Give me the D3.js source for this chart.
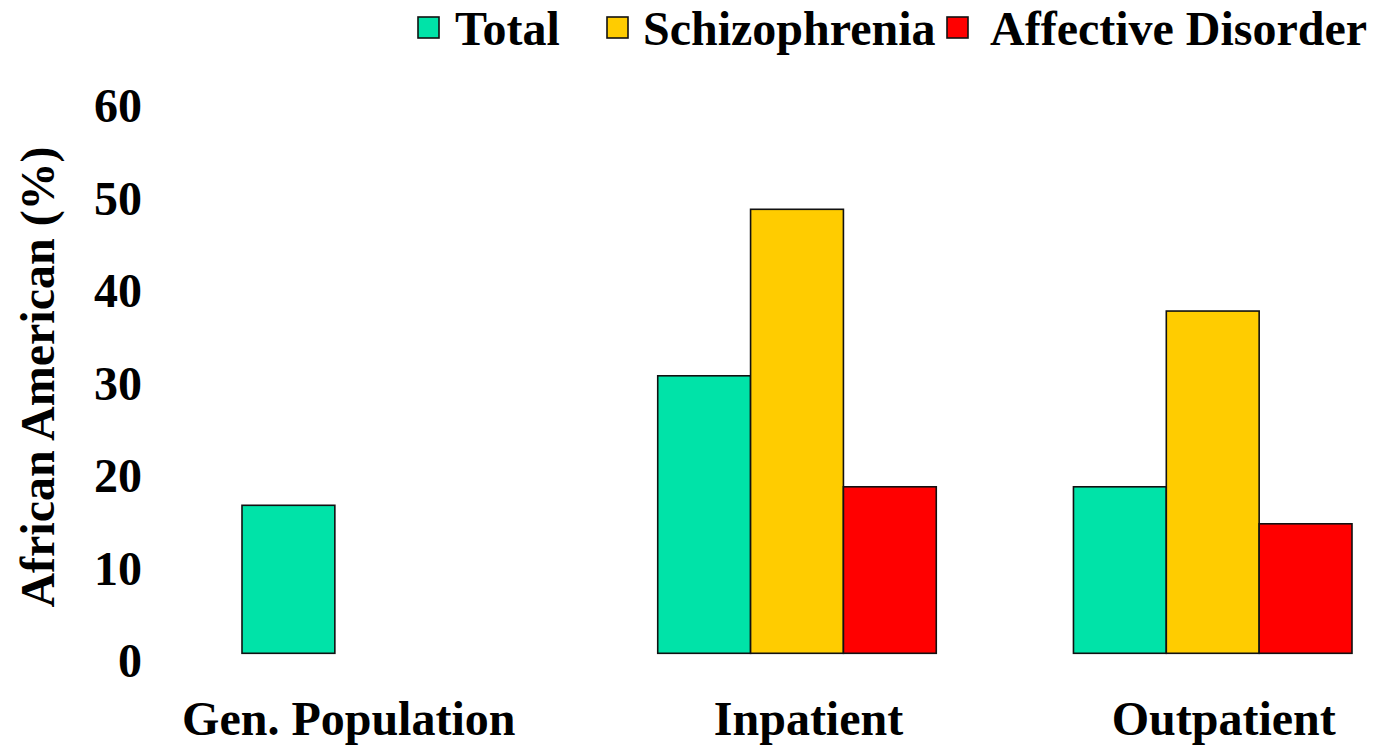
<!DOCTYPE html>
<html>
<head>
<meta charset="utf-8">
<script src="https://cdn.jsdelivr.net/npm/d3@7"></script>
<style>
  html, body { margin: 0; padding: 0; background: #fff; }
  svg { display: block; }
  text { font-family: "Liberation Serif", "Times New Roman", serif; font-weight: bold; fill: #000; }
</style>
</head>
<body>
<svg id="chart" width="1375" height="751"></svg>
<script>
// Share of African American patients, by setting and diagnosis
const categories = ["Gen. Population", "Inpatient", "Outpatient"];
const seriesNames = ["Total", "Schizophrenia", "Affective Disorder"];
const totalValues = [16, 30, 18];
const schizophreniaValues = [null, 48, 37];
const affectiveValues = [null, 18, 14];
const yTicks = [0, 10, 20, 30, 40, 50, 60];
const seriesColors = ["#00E3A8", "#FFCC00", "#FF0000"];

const seriesValues = [totalValues, schizophreniaValues, affectiveValues];
const rows = categories.map((c, i) => ({
  category: c,
  values: seriesNames.map((s, j) => ({ series: s, value: seriesValues[j][i] }))
}));

const svg = d3.select("#chart");
const fontSize = 48;

const x0 = d3.scaleBand().domain(categories).range([242, 1352]).paddingInner(0.33).paddingOuter(0);
const x1 = d3.scaleBand().domain(seriesNames).range([0, x0.bandwidth()]);
const y = d3.scaleLinear().domain([0, 60]).range([653.3, 98.3]);
const color = d3.scaleOrdinal().domain(seriesNames).range(seriesColors);

// Bars
svg.append("g").selectAll("g")
  .data(rows).join("g")
  .attr("transform", d => `translate(${x0(d.category)},0)`)
  .selectAll("rect")
  .data(d => d.values.filter(v => v.value != null))
  .join("rect")
  .attr("x", d => x1(d.series))
  .attr("y", d => y(d.value))
  .attr("width", x1.bandwidth())
  .attr("height", d => y(0) - y(d.value))
  .attr("fill", d => color(d.series))
  .attr("stroke", "#111")
  .attr("stroke-width", 1.6);

// Y axis (labels only)
const yAxis = svg.append("g")
  .attr("transform", "translate(152,0)")
  .call(d3.axisLeft(y).tickValues(yTicks).tickSize(0).tickPadding(10));
yAxis.select(".domain").remove();
yAxis.selectAll("text")
  .attr("dy", "0.49em")
  .style("font-size", fontSize + "px")
  .style("font-family", "'Liberation Serif', serif")
  .style("font-weight", "bold")
  .attr("fill", "#000");

// X axis (labels only)
const labelNudge = [-32.5, 11.5, 11];
const xAxis = svg.append("g")
  .attr("transform", `translate(0,${y(0)})`)
  .call(d3.axisBottom(x0).tickSize(0));
xAxis.select(".domain").remove();
xAxis.selectAll("text")
  .attr("y", 0)
  .attr("dy", 0)
  .attr("transform", (d, i) => `translate(${labelNudge[i]},82)`)
  .style("font-size", fontSize + "px")
  .style("font-family", "'Liberation Serif', serif")
  .style("font-weight", "bold")
  .attr("fill", "#000");

// Y axis title
svg.append("text")
  .attr("transform", "translate(54,377) rotate(-90)")
  .attr("text-anchor", "middle")
  .style("font-size", fontSize + "px")
  .text("African American (%)");

// Legend
const legendX = [418, 607, 947];
const legend = svg.append("g").selectAll("g")
  .data(seriesNames).join("g")
  .attr("transform", (d, i) => `translate(${legendX[i]},0)`);
legend.append("rect")
  .attr("x", 0).attr("y", 17)
  .attr("width", 21).attr("height", 21)
  .attr("fill", d => color(d))
  .attr("stroke", "#111")
  .attr("stroke-width", 1.6);
legend.append("text")
  .attr("x", (d, i) => [37, 36, 43][i])
  .attr("y", 45)
  .style("font-size", fontSize + "px")
  .text(d => d);
</script>
</body>
</html>
